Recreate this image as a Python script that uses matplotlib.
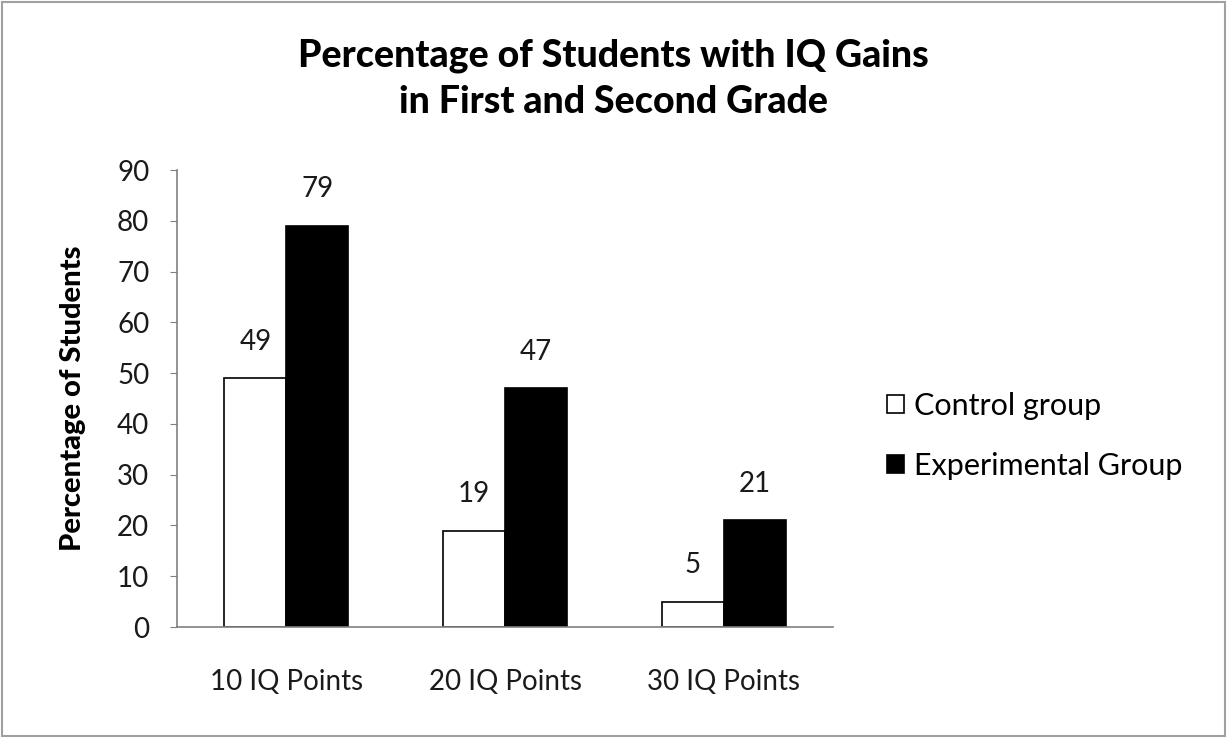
import matplotlib.pyplot as plt
from matplotlib.patches import Rectangle
import numpy as np

categories = ["10 IQ Points", "20 IQ Points", "30 IQ Points"]
control = [49, 19, 5]
experimental = [79, 47, 21]

plt.rcParams['font.family'] = ['Lato', 'DejaVu Sans']

fig = plt.figure(figsize=(12.27, 7.38), dpi=100)
ax = fig.add_axes([0.1443, 0.1504, 0.5346, 0.6192])

x = np.arange(len(categories))
w = 0.284
b1 = ax.bar(x - w / 2, control, w, color='white', edgecolor='black', linewidth=1.2, label='Control group')
b2 = ax.bar(x + w / 2, experimental, w, color='black', edgecolor='black', linewidth=1.2, label='Experimental Group')
ax.bar_label(b1, padding=17, fontsize=20, color='#1a1a1a')
ax.bar_label(b2, padding=17, fontsize=20, color='#1a1a1a')

ax.set_xlim(-0.5, 2.5)
ax.set_ylim(0, 90)
ax.set_yticks(range(0, 91, 10))
ax.set_xticks(x)
ax.set_xticklabels(categories)
ax.tick_params(axis='y', labelsize=20, colors='#1a1a1a', length=5, color='#808080', pad=15)
ax.tick_params(axis='x', labelsize=20, colors='#1a1a1a', length=0, pad=30)
for s in ['top', 'right']:
    ax.spines[s].set_visible(False)
for s in ['left', 'bottom']:
    ax.spines[s].set_color('#808080')
    ax.spines[s].set_linewidth(1.2)

ax.set_ylabel("Percentage of Students", fontsize=21, fontweight='black', labelpad=22)

fig.text(0.5, 0.893, "Percentage of Students with IQ Gains\nin First and Second Grade",
         ha='center', va='center', fontsize=27, fontweight='black', linespacing=1.42)

ax.legend(loc='center left', bbox_to_anchor=(1.04, 0.418), frameon=False, fontsize=22,
          handlelength=0.55, handleheight=0.55, handletextpad=0.35, labelspacing=1.05)

fig.add_artist(Rectangle((0.002, 0.003), 0.996, 0.994, transform=fig.transFigure,
                         fill=False, edgecolor='#a0a0a0', linewidth=1.5))

fig.savefig("out.png", dpi=100)
